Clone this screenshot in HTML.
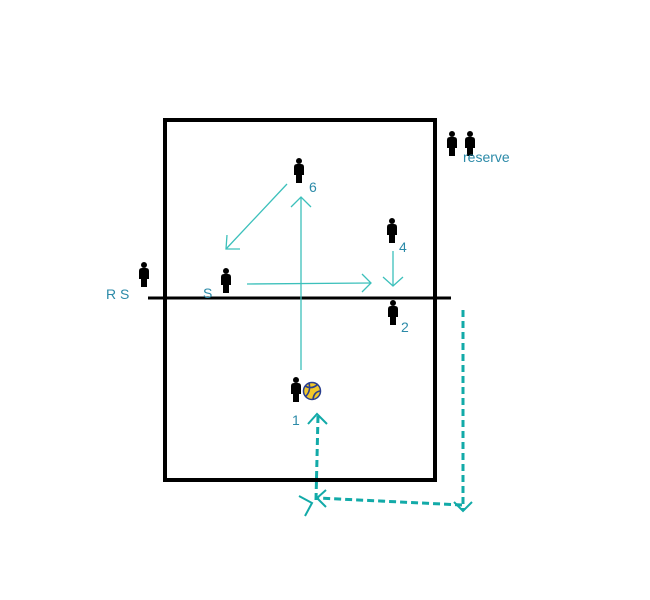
<!DOCTYPE html>
<html><head><style>
html,body{margin:0;padding:0;background:#fff;width:650px;height:600px;overflow:hidden}
svg{display:block}
text{font-family:"Liberation Sans",sans-serif;font-size:14px;fill:#2b8aa8}
</style></head><body>
<svg width="650" height="600" viewBox="0 0 650 600" xmlns="http://www.w3.org/2000/svg">
<defs>
<g id="p">
<circle cx="0" cy="3" r="3" fill="#000"/>
<path d="M-5,9 Q-5,6 -2,6 L2,6 Q5,6 5,9 L5,17 L3,17 L3,25 L-3,25 L-3,17 L-5,17 Z" fill="#000"/>
</g>
</defs>
<rect x="165" y="120" width="270" height="360" fill="none" stroke="#000" stroke-width="4"/>
<line x1="148" y1="298" x2="451" y2="298" stroke="#000" stroke-width="3"/>

<g stroke="#3cc0bb" stroke-width="1.3" fill="none">
<line x1="287" y1="184" x2="226" y2="249"/>
<polyline points="227,235 226,249 240,249"/>
<line x1="301" y1="370" x2="301" y2="198"/>
<polyline points="291,207 301,197 311,207"/>
<line x1="247" y1="284" x2="371" y2="283"/>
<polyline points="362,274 371,283 362,292"/>
<line x1="393" y1="251" x2="393" y2="286"/>
<polyline points="383,277 393,286 403,277"/>
</g>

<g stroke="#12aaa8" stroke-width="3" fill="none">
<line x1="463" y1="310" x2="463" y2="511" stroke-dasharray="7,4"/>
<polyline points="454,502 463,511 472,502" stroke-width="2"/>
<line x1="462" y1="505" x2="318" y2="498" stroke-dasharray="7,4"/>
<polyline points="326,490 317,498 326,507" stroke-width="2"/>
<line x1="316" y1="500" x2="318" y2="416" stroke-dasharray="7,4"/>
<polyline points="308,424 317,414 327,424" stroke-width="2"/>
<polyline points="299,496 312,503 305,516" stroke-width="2"/>
</g>

<use href="#p" x="299" y="158"/>
<use href="#p" x="392" y="218"/>
<use href="#p" x="226" y="268"/>
<use href="#p" x="144" y="262"/>
<use href="#p" x="393" y="300"/>
<use href="#p" x="296" y="377"/>
<use href="#p" x="452" y="131"/>
<use href="#p" x="470" y="131"/>

<circle cx="312" cy="391" r="8.5" fill="#f2c82a" stroke="#2a3f8f" stroke-width="1.5"/>
<path d="M305,386 Q312,390 318,384 M306,396 Q311,391 309,383 M313,399 Q314,392 320,391" stroke="#2a3f8f" stroke-width="1.6" fill="none"/>

<text x="309" y="192">6</text>
<text x="399" y="252">4</text>
<text x="401" y="332">2</text>
<text x="292" y="425">1</text>
<text x="203" y="298">S</text>
<text x="106" y="299">R S</text>
<text x="463" y="162">reserve</text>
</svg>
</body></html>
